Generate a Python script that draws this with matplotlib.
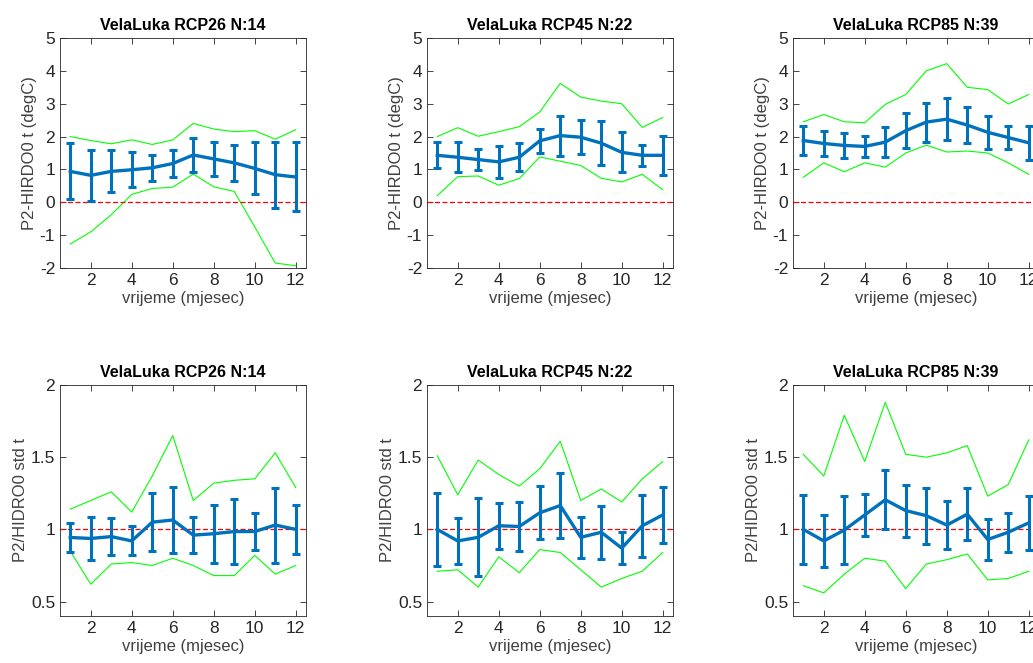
import numpy as np
import matplotlib
matplotlib.use('Agg')
import matplotlib.pyplot as plt

plt.rcParams['font.family'] = ['Liberation Sans', 'DejaVu Sans']

months = np.arange(1, 13)
titles = ["VelaLuka RCP26 N:14", "VelaLuka RCP45 N:22", "VelaLuka RCP85 N:39"]

# gornji red: promjena temperature (degC)
t_mean = [
    [0.94, 0.82, 0.94, 0.99, 1.05, 1.18, 1.44, 1.32, 1.20, 1.03, 0.84, 0.77],
    [1.43, 1.37, 1.30, 1.23, 1.37, 1.87, 2.03, 1.98, 1.80, 1.52, 1.43, 1.43],
    [1.88, 1.79, 1.73, 1.70, 1.83, 2.18, 2.44, 2.53, 2.35, 2.13, 1.97, 1.81],
]
t_err = [
    [0.85, 0.78, 0.64, 0.53, 0.40, 0.40, 0.53, 0.52, 0.55, 0.79, 1.01, 1.05],
    [0.40, 0.45, 0.31, 0.49, 0.43, 0.37, 0.61, 0.51, 0.67, 0.61, 0.32, 0.59],
    [0.44, 0.38, 0.37, 0.33, 0.45, 0.53, 0.59, 0.64, 0.56, 0.50, 0.35, 0.52],
]
t_max = [
    [2.00, 1.88, 1.78, 1.90, 1.76, 1.90, 2.40, 2.23, 2.15, 2.18, 1.92, 2.21],
    [2.00, 2.27, 2.01, 2.15, 2.30, 2.75, 3.62, 3.20, 3.08, 3.00, 2.28, 2.58],
    [2.45, 2.67, 2.45, 2.42, 2.98, 3.28, 4.00, 4.22, 3.50, 3.43, 2.99, 3.28],
]
t_min = [
    [-1.27, -0.90, -0.38, 0.24, 0.42, 0.46, 0.86, 0.47, 0.33, -0.75, -1.85, -1.93],
    [0.20, 0.78, 0.80, 0.52, 0.72, 1.38, 1.25, 1.12, 0.73, 0.62, 0.85, 0.38],
    [0.76, 1.20, 0.93, 1.20, 1.07, 1.50, 1.74, 1.53, 1.56, 1.50, 1.20, 0.85],
]

# donji red: omjer standardne devijacije
s_mean = [
    [0.944, 0.937, 0.95, 0.92, 1.05, 1.065, 0.96, 0.97, 0.985, 0.985, 1.03, 1.00],
    [1.00, 0.92, 0.945, 1.025, 1.02, 1.115, 1.165, 0.945, 0.98, 0.87, 1.025, 1.10],
    [1.00, 0.92, 0.995, 1.10, 1.205, 1.13, 1.095, 1.03, 1.105, 0.93, 0.98, 1.045],
]
s_err = [
    [0.10, 0.15, 0.13, 0.10, 0.20, 0.23, 0.125, 0.20, 0.225, 0.125, 0.26, 0.17],
    [0.255, 0.16, 0.27, 0.16, 0.17, 0.185, 0.225, 0.14, 0.185, 0.11, 0.215, 0.195],
    [0.24, 0.18, 0.235, 0.145, 0.205, 0.18, 0.195, 0.165, 0.18, 0.14, 0.135, 0.185],
]
s_max = [
    [1.14, 1.20, 1.26, 1.12, 1.37, 1.65, 1.20, 1.32, 1.34, 1.35, 1.53, 1.29],
    [1.51, 1.24, 1.48, 1.38, 1.30, 1.42, 1.61, 1.20, 1.28, 1.19, 1.35, 1.47],
    [1.52, 1.37, 1.79, 1.47, 1.88, 1.52, 1.50, 1.53, 1.58, 1.23, 1.31, 1.62],
]
s_min = [
    [0.85, 0.62, 0.76, 0.77, 0.75, 0.80, 0.75, 0.68, 0.68, 0.82, 0.69, 0.75],
    [0.71, 0.72, 0.60, 0.81, 0.70, 0.86, 0.84, 0.72, 0.60, 0.66, 0.71, 0.84],
    [0.61, 0.56, 0.69, 0.80, 0.78, 0.59, 0.76, 0.79, 0.83, 0.65, 0.66, 0.71],
]

W, H = 1033, 663
fig = plt.figure(figsize=(W / 100, H / 100), dpi=100)

col_left = [60, 427, 793]
rows = [(38, 268), (385, 616)]


def panel(ax, mean, err, upper, lower, ref, ylim, yticks, ylabel, title):
    ax.plot(months, upper, color='#00ff00', lw=0.8)
    ax.plot(months, lower, color='#00ff00', lw=0.8)
    ax.axhline(ref, color='#ff0000', ls='--', lw=0.9, dashes=(4, 2))
    ax.errorbar(months, mean, yerr=err, color='#0072bd', lw=2.4,
                elinewidth=2.2, capsize=2.8, capthick=2.2)
    ax.set_xlim(0.5, 12.5)
    ax.set_ylim(*ylim)
    ax.set_xticks([2, 4, 6, 8, 10, 12])
    ax.set_yticks(yticks)
    ax.set_yticklabels([f'{v:g}' for v in yticks])
    ax.tick_params(direction='in', top=True, right=True, length=4,
                   labelsize=12.5, colors='#262626', width=0.6)
    for s in ax.spines.values():
        s.set_color('#262626')
        s.set_linewidth(0.6)
    ax.set_xlabel('vrijeme (mjesec)', fontsize=12, color='#404040', labelpad=2)
    ax.set_ylabel(ylabel, fontsize=12, color='#404040', labelpad=2)
    ax.set_title(title, fontsize=11.5, fontweight='bold', pad=6)


for i in range(3):
    for r, (top, bot) in enumerate(rows):
        ax = fig.add_axes([col_left[i] / W, (H - bot) / H, 246 / W, (bot - top) / H])
        if r == 0:
            panel(ax, t_mean[i], t_err[i], t_max[i], t_min[i], 0, (-2, 5),
                  list(range(-2, 6)), 'P2-HIRDO0 t (degC)', titles[i])
        else:
            panel(ax, s_mean[i], s_err[i], s_max[i], s_min[i], 1, (0.4, 2),
                  [0.5, 1, 1.5, 2], 'P2/HIDRO0 std t', titles[i])

fig.savefig('out.png', dpi=100)
